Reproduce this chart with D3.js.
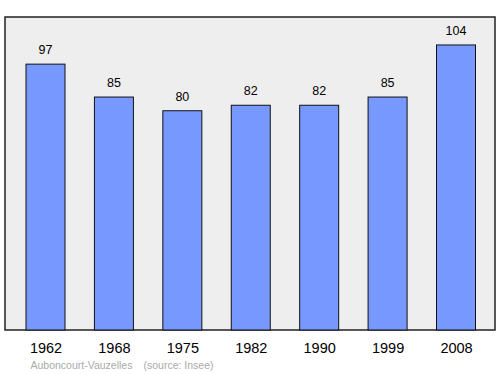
<!DOCTYPE html>
<html>
<head>
<meta charset="utf-8">
<script src="https://cdn.jsdelivr.net/npm/d3@7"></script>
<style>
  body { margin: 0; background: #fff; }
  svg { display: block; font-family: "Liberation Sans", Arial, sans-serif; }
</style>
</head>
<body>
<div id="chart"></div>
<script>
const years = ["1962", "1968", "1975", "1982", "1990", "1999", "2008"];
const population = [97, 85, 80, 82, 82, 85, 104];
const commune = "Auboncourt-Vauzelles";
const source = "(source: Insee)";

const width = 500, height = 374;
const frame = { left: 5, top: 17, right: 495, bottom: 330 };
const barWidth = 39;

const svg = d3.select("#chart")
    .append("svg")
    .attr("width", width)
    .attr("height", height);

// fond gris avec cadre
svg.append("rect")
    .attr("x", frame.left)
    .attr("y", frame.top)
    .attr("width", frame.right - frame.left)
    .attr("height", frame.bottom - frame.top)
    .attr("fill", "#eeeeee")
    .attr("stroke", "#222")
    .attr("stroke-width", 1.5);

const x = d3.scalePoint()
    .domain(years)
    .range([45.5, 456]);

const y = d3.scaleLinear()
    .domain([0, 114.2])
    .range([frame.bottom, frame.top]);

const data = years.map((yr, i) => ({ year: yr, value: population[i] }));

svg.selectAll("rect.bar")
    .data(data)
    .enter()
    .append("rect")
    .attr("class", "bar")
    .attr("x", d => x(d.year) - barWidth / 2)
    .attr("y", d => y(d.value))
    .attr("width", barWidth)
    .attr("height", d => y(0) - y(d.value))
    .attr("fill", "#7799ff")
    .attr("stroke", "#111")
    .attr("stroke-width", 1);

// valeurs au-dessus des barres
svg.selectAll("text.value")
    .data(data)
    .enter()
    .append("text")
    .attr("class", "value")
    .attr("x", d => x(d.year))
    .attr("y", d => y(d.value) - 10)
    .attr("text-anchor", "middle")
    .attr("font-size", 12.5)
    .attr("fill", "#000")
    .text(d => d.value);

// axe des années, sans trait
const axis = svg.append("g")
    .attr("transform", `translate(0,${frame.bottom})`)
    .call(d3.axisBottom(x).tickSize(0).tickPadding(13));
axis.select(".domain").remove();
axis.selectAll("text")
    .attr("font-size", 14.5)
    .attr("font-family", "\"Liberation Sans\", Arial, sans-serif")
    .attr("fill", "#000");

svg.append("text")
    .attr("x", 30.5)
    .attr("y", 368.5)
    .attr("font-size", 10.5)
    .attr("fill", "#aaaaaa")
    .text(commune);

svg.append("text")
    .attr("x", 143.5)
    .attr("y", 368.5)
    .attr("font-size", 10.5)
    .attr("fill", "#aaaaaa")
    .text(source);
</script>
</body>
</html>
